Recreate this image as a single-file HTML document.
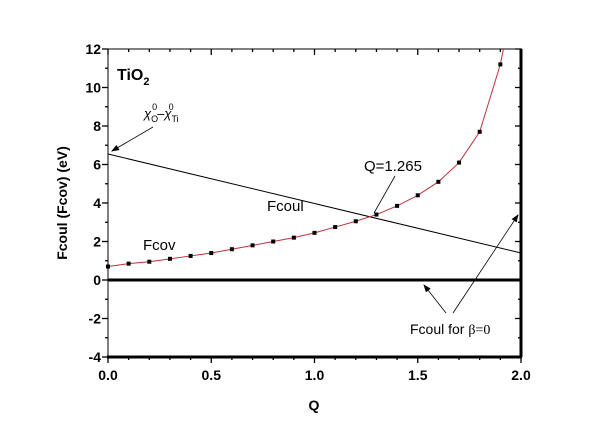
<!DOCTYPE html>
<html><head><style>body{margin:0;background:#fff}svg{display:block}text{font-family:"Liberation Sans",Arial,sans-serif}</style></head>
<body>
<svg width="607" height="428" viewBox="0 0 607 428" xmlns="http://www.w3.org/2000/svg">
<defs><marker id="ar" markerWidth="8" markerHeight="8" refX="7" refY="4" orient="auto" markerUnits="userSpaceOnUse"><path d="M0,1 L8,4 L0,7 Z" fill="#000"/></marker></defs>
<g stroke="#000" stroke-width="1">
<line x1="108" y1="49" x2="108" y2="357"/>
<line x1="108" y1="49" x2="522" y2="49"/>
<line x1="521" y1="49" x2="521" y2="357" stroke-width="3"/>
<line x1="107" y1="357" x2="522" y2="357" stroke-width="3"/>
<line x1="108" y1="280" x2="522" y2="280" stroke-width="3"/>
</g>
<g id="ticks" stroke="#000" stroke-width="1.3"></g>
<g id="lbl" font-size="14" font-weight="bold" text-anchor="end"></g>
<text x="314" y="410" font-size="14" font-weight="bold" text-anchor="middle">Q</text>
<text transform="translate(67,203) rotate(-90)" font-size="14" font-weight="bold" text-anchor="middle">Fcoul (Fcov) (eV)</text>
<line x1="108" y1="154" x2="521" y2="253" stroke="#000" stroke-width="1"/>
<polyline id="cov" fill="none" stroke="#c0303a" stroke-width="1"/>
<g id="pts" fill="#000"></g>
<text x="117" y="80" font-size="16" font-weight="bold">TiO<tspan font-size="11" dy="5">2</tspan></text>
<text x="144" y="118" font-size="13" font-style="italic">χ<tspan font-size="9" font-style="normal" dy="4">O</tspan><tspan font-size="9" font-style="normal" dx="-6" dy="-12">0</tspan><tspan dy="8" font-size="13">–χ</tspan><tspan font-size="9" font-style="normal" dy="4">Ti</tspan><tspan font-size="9" font-style="normal" dx="-10" dy="-12">0</tspan></text>
<line x1="153" y1="127" x2="112" y2="151" stroke="#000" stroke-width="0.8" marker-end="url(#ar)"/>
<text x="267" y="211" font-size="15">Fcoul</text>
<text x="143" y="250" font-size="15">Fcov</text>
<text x="364" y="171" font-size="15">Q=1.265</text>
<line x1="395" y1="176" x2="374" y2="213" stroke="#000" stroke-width="0.8"/>
<text x="410" y="334" font-size="14">Fcoul for <tspan font-family="Liberation Serif">β=0</tspan></text>
<line x1="446" y1="313" x2="424" y2="285" stroke="#000" stroke-width="0.8" marker-end="url(#ar)"/>
<line x1="453" y1="313" x2="518" y2="215" stroke="#000" stroke-width="0.8" marker-end="url(#ar)"/>
<script>
var X=q=>108+q*206.5, Y=v=>280-v*19.25, t=document.getElementById('ticks'),l=document.getElementById('lbl'),ns="http://www.w3.org/2000/svg";
function ln(a,b,c,d){var e=document.createElementNS(ns,'line');e.setAttribute('x1',a);e.setAttribute('y1',b);e.setAttribute('x2',c);e.setAttribute('y2',d);t.appendChild(e);}
function tx(x,y,s,anc){var e=document.createElementNS(ns,'text');e.setAttribute('x',x);e.setAttribute('y',y);if(anc)e.setAttribute('text-anchor',anc);e.textContent=s;l.appendChild(e);}
for(var i=0;i<=20;i++){var x=X(i/10),m=i%5==0;ln(x,357,x,357+(m?6:3));ln(x,49,x,49+(m?6:3));if(m)tx(x,380,(i/10).toFixed(1),'middle');}
for(var v=-4;v<=12;v++){var y=Y(v),m=v%2==0;ln(108,y,108-(m?6:3),y);ln(521,y,521-(m?6:3),y);if(m)tx(101,y+5,String(v));}
var d=[0.7,0.85,0.95,1.1,1.25,1.4,1.6,1.8,2.0,2.2,2.45,2.75,3.05,3.4,3.85,4.4,5.1,6.1,7.7,11.2],p=[],g=document.getElementById('pts');
d.forEach((v,i)=>{var x=X(i/10),y=Y(v);p.push(x+','+y);var r=document.createElementNS(ns,'rect');r.setAttribute('x',x-2);r.setAttribute('y',y-2);r.setAttribute('width',4);r.setAttribute('height',4);g.appendChild(r);});
p.push(X(1.915)+','+Y(12));document.getElementById('cov').setAttribute('points',p.join(' '));
</script>
</svg>
</body></html>
